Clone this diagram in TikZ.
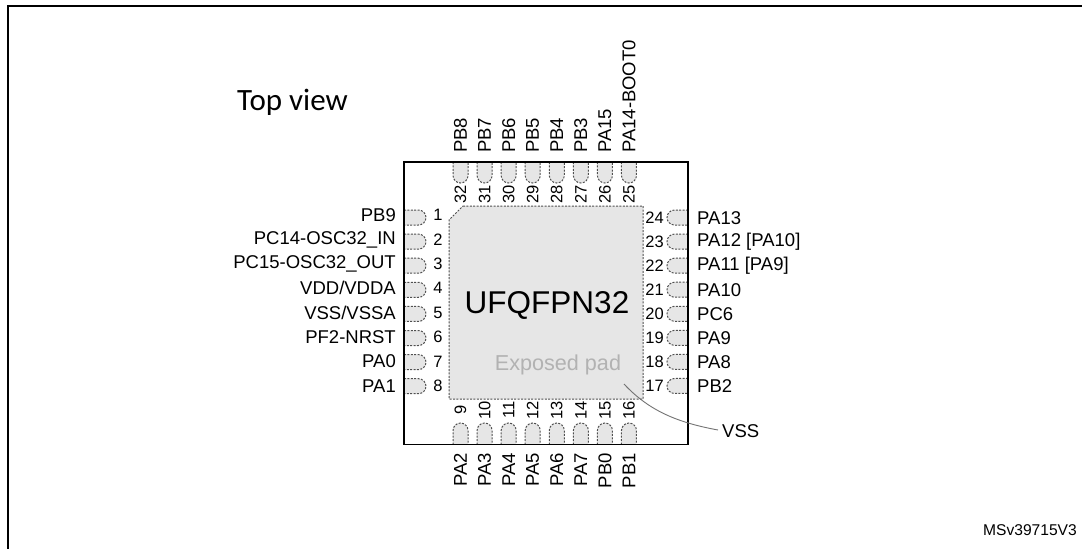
\documentclass[tikz,border=0pt]{standalone}
\usepackage{fontspec}
\setmainfont{Liberation Sans}
\newfontfamily\topfont{Carlito}
\definecolor{padfill}{HTML}{E6E6E6}
\definecolor{padline}{HTML}{505050}
\tikzset{
  x=1pt,y=-1pt,
  frameline/.style={draw=black,line width=2pt},
  pkgline/.style={draw=black,line width=1.1pt},
  pinshape/.style={draw=padline,fill=padfill,line width=1pt,dash pattern=on 2pt off 1.4pt},
  pinlabel/.style={font=\fontsize{18.5}{18.5}\selectfont,inner sep=0pt},
  pinnum/.style={font=\fontsize{16.5}{16.5}\selectfont,inner sep=0pt},
  leader/.style={draw=black!55,line width=0.9pt},
}
\begin{document}
\begin{tikzpicture}
\useasboundingbox (0,0) rectangle (1082,549);
\fill[white] (0,0) rectangle (1082,549);
\draw[frameline] (7.5,549) -- (7.5,6) -- (1082,6);
% exposed pad
\draw[pinshape] (463,206) -- (643,206) -- (643,399) -- (449,399) -- (449,220) -- cycle;
% pins
\foreach \i/\lab [count=\n from 0] in {1/PB9,2/PC14-OSC32\_IN,3/PC15-OSC32\_OUT,4/VDD\slash VDDA,5/VSS\slash VSSA,6/PF2-NRST,7/PA0,8/PA1}{
  \pgfmathsetmacro\yy{217.5+24.1*\n}
  \pgfmathsetmacro\ty{215+24.4*\n}
  \draw[pinshape] (404,\yy-7.5) -- (418.5,\yy-7.5) .. controls (422.6,\yy-7.5) and (426,\yy-4.1) .. (426,\yy) .. controls (426,\yy+4.1) and (422.6,\yy+7.5) .. (418.5,\yy+7.5) -- (404,\yy+7.5);
  \node[pinnum] (ln\i) at (438,\ty) {\i};
  \node[pinlabel,anchor=east] (ll\i) at (396,\ty) {\lab};
}
\foreach \i/\lab [count=\n from 0] in {24/PA13,23/PA12 [PA10],22/PA11 [PA9],21/PA10,20/PC6,19/PA9,18/PA8,17/PB2}{
  \pgfmathsetmacro\yy{217.5+24.07*\n}
  \draw[pinshape] (688,\yy-7.5) -- (674.5,\yy-7.5) .. controls (670.4,\yy-7.5) and (667,\yy-4.1) .. (667,\yy) .. controls (667,\yy+4.1) and (670.4,\yy+7.5) .. (674.5,\yy+7.5) -- (688,\yy+7.5);
  \node[pinnum] (rn\i) at (654.5,\yy) {\i};
  \node[pinlabel,anchor=west] (rl\i) at (697,\yy+0.5) {\lab};
}
\foreach \i/\lab [count=\n from 0] in {32/PB8,31/PB7,30/PB6,29/PB5,28/PB4,27/PB3,26/PA15,25/PA14-BOOT0}{
  \pgfmathsetmacro\xx{460.5+24.07*\n}
  \draw[pinshape] (\xx-7.5,162) -- (\xx-7.5,175.5) .. controls (\xx-7.5,179.6) and (\xx-4.1,183) .. (\xx,183) .. controls (\xx+4.1,183) and (\xx+7.5,179.6) .. (\xx+7.5,175.5) -- (\xx+7.5,162);
  \node[pinnum,rotate=90] (tn\i) at (\xx,194) {\i};
  \node[pinlabel,rotate=90,anchor=west] (tl\i) at (\xx,153) {\lab};
}
\foreach \i/\lab [count=\n from 0] in {9/PA2,10/PA3,11/PA4,12/PA5,13/PA6,14/PA7,15/PB0,16/PB1}{
  \pgfmathsetmacro\xx{460.5+24.07*\n}
  \draw[pinshape] (\xx-7.5,444.5) -- (\xx-7.5,430.5) .. controls (\xx-7.5,426.4) and (\xx-4.1,423) .. (\xx,423) .. controls (\xx+4.1,423) and (\xx+7.5,426.4) .. (\xx+7.5,430.5) -- (\xx+7.5,444.5);
  \node[pinnum,rotate=90] (bn\i) at (\xx,410) {\i};
  \node[pinlabel,rotate=90,anchor=east] (bl\i) at (\xx,453) {\lab};
}
% package
\draw[pkgline] (404,162) rectangle (688,444.5);
\node[inner sep=0pt,font=\fontsize{31.5}{31.5}\selectfont] (chip) at (547,305) {UFQFPN32};
\node[inner sep=0pt,font=\fontsize{21.6}{21.6}\selectfont,text=black!30] (epad) at (558,365) {Exposed pad};
\node[inner sep=0pt,font=\topfont\fontsize{31}{31}\selectfont,anchor=west] (top) at (237,102) {Top view};
\node[pinlabel,anchor=west] (vss) at (722,431) {VSS};
\node[inner sep=0pt,anchor=east,font=\fontsize{15.6}{15.6}\selectfont] (msv) at (1077,530) {MSv39715V3};
\coordinate (padpt) at (624,384);
\coordinate (vssend) at ([xshift=-4pt,yshift=1pt]vss.west);
\draw[leader] (padpt) .. controls (650,412) and (680,423) .. (vssend);
\end{tikzpicture}
\end{document}
